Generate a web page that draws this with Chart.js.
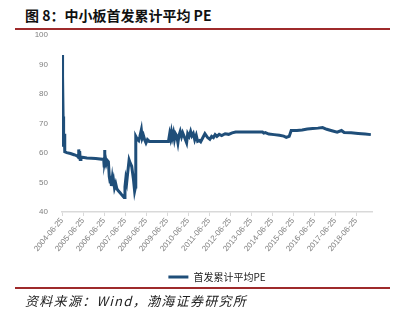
<!DOCTYPE html>
<html>
<head>
<meta charset="utf-8">
<script src="https://cdn.jsdelivr.net/npm/chart.js@4/dist/chart.umd.min.js"></script>
<style>
  html, body { margin: 0; padding: 0; background: #fff; }
  body { width: 403px; height: 318px; position: relative; overflow: hidden; font-family: "Noto Sans CJK SC", sans-serif; }
  #title { position: absolute; left: 25px; top: 5px; font-size: 14px; font-weight: bold; color: #111; white-space: nowrap; }
  .rule { position: absolute; left: 15px; width: 375px; height: 2px; background: #9e2a2b; }
  #source { position: absolute; left: 25px; top: 291px; font-size: 13px; letter-spacing: 1.3px; font-style: italic; color: #222; white-space: nowrap; }
  #wrap { position: absolute; left: 0; top: 24px; width: 403px; height: 268px; }
</style>
</head>
<body>
<div id="title">图 8：中小板首发累计平均 PE</div>
<div class="rule" style="top:28px"></div>
<div id="wrap"><canvas id="peChart"></canvas></div>
<div class="rule" style="top:287px"></div>
<div id="source">资料来源：Wind，渤海证券研究所</div>
<script>
const seriesName = "首发累计平均PE";
const startDate = "2004-06-25";
const tickYears = [2004, 2005, 2006, 2007, 2008, 2009, 2010, 2011, 2012, 2013, 2014, 2015, 2016, 2017, 2018];
const yTicks = [40, 50, 60, 70, 80, 90, 100];

const dates = [
  "2004-06-25", "2004-06-29", "2004-07-03", "2004-07-07", "2004-07-10", "2004-07-14", "2004-07-18", "2004-07-23",
  "2004-07-28", "2004-08-05", "2004-08-12", "2004-09-15", "2004-11-20", "2005-01-20", "2005-03-15", "2005-04-05",
  "2005-04-12", "2005-04-20", "2005-04-28", "2005-05-08", "2005-05-20", "2005-09-01", "2006-02-01", "2006-06-20",
  "2006-06-28", "2006-07-05", "2006-07-12", "2006-07-20", "2006-08-05", "2006-08-20", "2006-09-10", "2006-09-25",
  "2006-10-10", "2006-10-20", "2006-11-01", "2006-11-15", "2006-11-28", "2006-12-10", "2006-12-25", "2007-01-15",
  "2007-02-05", "2007-03-01", "2007-04-01", "2007-05-01", "2007-06-10", "2007-06-25", "2007-07-10", "2007-07-25",
  "2007-08-10", "2007-09-05", "2007-09-25", "2007-10-20", "2007-11-20", "2007-12-10", "2007-12-25", "2007-12-30",
  "2008-01-20", "2008-02-20", "2008-03-10", "2008-04-05", "2008-04-20", "2008-05-10", "2008-06-01", "2008-06-25",
  "2008-07-20", "2008-08-20", "2009-07-20", "2009-08-10", "2009-08-25", "2009-09-10", "2009-09-25", "2009-10-15",
  "2009-11-01", "2009-11-20", "2009-12-10", "2010-01-01", "2010-01-20", "2010-02-10", "2010-03-05", "2010-03-25",
  "2010-04-15", "2010-06-01", "2010-06-20", "2010-07-15", "2010-08-10", "2010-09-01", "2010-09-25", "2010-10-20",
  "2010-11-15", "2010-12-10", "2011-01-10", "2011-02-01", "2011-04-15", "2011-06-01", "2011-07-10", "2011-08-10",
  "2011-09-10", "2011-10-10", "2011-11-10", "2011-12-20", "2012-02-01", "2012-04-01", "2012-06-01", "2012-08-01",
  "2012-10-01", "2014-01-10", "2014-02-01", "2014-03-01", "2014-05-01", "2014-08-01", "2014-11-01", "2015-01-15",
  "2015-03-01", "2015-04-20", "2015-05-25", "2015-09-01", "2015-12-01", "2016-03-01", "2016-06-01", "2016-09-01",
  "2016-11-20", "2017-02-01", "2017-05-01", "2017-08-01", "2017-10-15", "2017-12-01", "2018-04-01", "2018-08-01",
  "2018-12-01", "2019-03-10"
];

const peValues = [
  82.5, 62.1, 78.0, 93.2, 86.0, 72.3, 64.4, 67.8,
  63.5, 66.5, 60.4, 60.1, 59.8, 59.4, 59.0, 58.5,
  61.2, 58.4, 60.6, 57.8, 58.6, 58.3, 58.1, 57.8,
  55.6, 61.0, 57.2, 58.3, 56.5, 57.5, 57.0, 52.0,
  50.2, 52.3, 48.8, 51.2, 49.0, 50.4, 48.2, 49.6,
  47.8, 47.2, 46.5, 45.8, 44.9, 48.5, 51.3, 50.0,
  53.0, 57.6, 56.5, 55.5, 51.0, 47.1, 48.5, 65.6,
  64.8, 64.2, 65.5, 67.8, 65.0, 66.0, 64.5, 63.4,
  64.5, 63.9, 63.9, 66.4, 65.0, 67.0, 65.2, 66.8,
  64.6, 66.5, 65.8, 63.4, 66.0, 67.3, 65.5, 66.8,
  65.8, 63.4, 66.5, 65.6, 67.3, 65.8, 66.6, 64.5,
  66.0, 63.9, 64.2, 63.8, 66.5, 65.2, 64.6, 65.6,
  65.2, 66.2, 65.6, 66.3, 65.9, 66.5, 66.3, 66.8,
  67.1, 67.1, 66.7, 66.9, 66.4, 66.2, 66.0, 65.7,
  65.3, 65.6, 67.6, 67.6, 67.8, 68.1, 68.3, 68.4,
  68.6, 68.0, 67.5, 67.0, 67.6, 66.9, 66.8, 66.6,
  66.4, 66.2
];

const DAY = 24 * 3600 * 1000;
function yearsSinceStart(d) {
  return (Date.parse(d) - Date.parse(startDate)) / (365.25 * DAY);
}

const points = dates.map((d, i) => ({ x: yearsSinceStart(d), y: peValues[i] }));

const lineColor = "#1f4e79";
const tickColor = "#808080";

new Chart(document.getElementById("peChart"), {
  type: "line",
  data: {
    datasets: [{
      label: seriesName,
      data: points,
      borderColor: lineColor,
      backgroundColor: lineColor,
      borderWidth: 3,
      pointRadius: 0,
      tension: 0
    }]
  },
  options: {
    responsive: true,
    maintainAspectRatio: false,
    animation: false,
    layout: { padding: { top: 1, right: 31, left: 0, bottom: 0 } },
    plugins: {
      tooltip: { enabled: false },
      legend: {
        position: "bottom",
        fullSize: false,
        labels: {
          boxWidth: 20,
          boxHeight: 3,
          padding: 0,
          color: "#222",
          font: { family: "Noto Sans CJK SC", size: 10 },
          generateLabels: (chart) => {
            const items = Chart.defaults.plugins.legend.labels.generateLabels(chart);
            items.forEach(it => { it.lineWidth = 0; });
            return items;
          }
        }
      }
    },
    scales: {
      x: {
        type: "linear",
        min: 0,
        max: 14.76,
        grid: { drawOnChartArea: false, color: "#d9d9d9", tickLength: 4 },
        border: { color: "#d9d9d9", width: 1.5 },
        afterBuildTicks: (scale) => {
          scale.ticks = tickYears.map(y => ({ value: y - 2004 }));
        },
        afterFit: (scale) => { scale.height = 60; },
        ticks: {
          autoSkip: false,
          maxRotation: 50,
          minRotation: 50,
          padding: 0,
          color: tickColor,
          font: { family: "Liberation Sans", size: 8 },
          callback: (v) => (2004 + Math.round(v)) + "-06-25"
        }
      },
      y: {
        min: 40,
        max: 100,
        grid: { display: false },
        border: { display: false },
        afterBuildTicks: (scale) => {
          scale.ticks = yTicks.map(v => ({ value: v }));
        },
        afterFit: (scale) => { scale.width = 62; },
        ticks: {
          padding: 6,
          color: tickColor,
          font: { family: "Liberation Sans", size: 8 }
        }
      }
    }
  }
});
</script>
</body>
</html>
